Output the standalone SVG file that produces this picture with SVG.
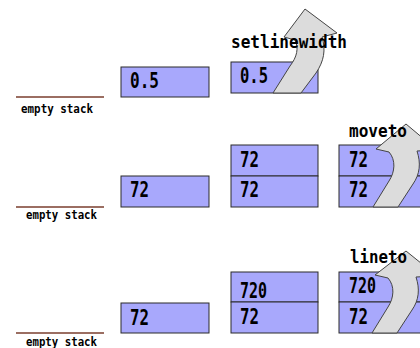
<svg xmlns="http://www.w3.org/2000/svg" width="420" height="348" viewBox="0 0 420 348">
  <style>
    .cell { fill: #a8a8fc; stroke: #2a2a2a; stroke-width: 1; }
    .val { font-family: "DejaVu Sans Mono", "Liberation Mono", monospace; font-weight: bold; font-size: 21px; fill: #000; }
    .op { font-family: "DejaVu Sans Mono", "Liberation Mono", monospace; font-weight: bold; font-size: 18px; fill: #000; }
    .base { stroke: #7a3e2e; stroke-width: 1.6; }
    .note { font-family: "DejaVu Sans Mono", "Liberation Mono", monospace; font-weight: bold; font-size: 13px; fill: #000; }
    .turn { fill: #dcdcdc; stroke: #444; stroke-width: 1; stroke-linejoin: round; }
  </style>
  <rect width="420" height="348" fill="#fff"/>

  <!-- row 1: 0.5 setlinewidth -->
  <g id="empty-1">
    <line class="base" x1="16" y1="97" x2="104" y2="97"/>
    <text class="note" x="21" y="113" textLength="72" lengthAdjust="spacingAndGlyphs">empty stack</text>
  </g>
  <g id="stack-1a">
    <rect class="cell" x="121" y="67" width="88" height="30"/>
    <text class="val" x="130" y="88" textLength="29" lengthAdjust="spacingAndGlyphs">0.5</text>
  </g>
  <g id="stack-1b">
    <rect class="cell" x="231" y="62" width="87" height="31"/>
    <text class="val" x="240" y="83" textLength="28" lengthAdjust="spacingAndGlyphs">0.5</text>
  </g>

  <!-- row 2: 72 72 moveto -->
  <g id="empty-2">
    <line class="base" x1="16" y1="207" x2="104" y2="207"/>
    <text class="note" x="26" y="219" textLength="71" lengthAdjust="spacingAndGlyphs">empty stack</text>
  </g>
  <g id="stack-2a">
    <rect class="cell" x="121" y="176" width="88" height="31"/>
    <text class="val" x="130" y="197" textLength="19" lengthAdjust="spacingAndGlyphs">72</text>
  </g>
  <g id="stack-2b">
    <rect class="cell" x="231" y="145" width="87" height="31"/>
    <rect class="cell" x="231" y="176" width="87" height="31"/>
    <text class="val" x="240" y="167" textLength="19" lengthAdjust="spacingAndGlyphs">72</text>
    <text class="val" x="240" y="197" textLength="19" lengthAdjust="spacingAndGlyphs">72</text>
  </g>
  <g id="stack-2c">
    <rect class="cell" x="339" y="145" width="90" height="31"/>
    <rect class="cell" x="339" y="176" width="90" height="31"/>
    <text class="val" x="349" y="167" textLength="19" lengthAdjust="spacingAndGlyphs">72</text>
    <text class="val" x="349" y="197" textLength="19" lengthAdjust="spacingAndGlyphs">72</text>
  </g>

  <!-- row 3: 72 720 lineto -->
  <g id="empty-3">
    <line class="base" x1="16" y1="333" x2="104" y2="333"/>
    <text class="note" x="26" y="346" textLength="71" lengthAdjust="spacingAndGlyphs">empty stack</text>
  </g>
  <g id="stack-3a">
    <rect class="cell" x="121" y="303" width="88" height="30"/>
    <text class="val" x="130" y="325" textLength="19" lengthAdjust="spacingAndGlyphs">72</text>
  </g>
  <g id="stack-3b">
    <rect class="cell" x="231" y="272" width="87" height="30"/>
    <rect class="cell" x="231" y="302" width="87" height="31"/>
    <text class="val" x="240" y="298" textLength="27" lengthAdjust="spacingAndGlyphs">720</text>
    <text class="val" x="240" y="324" textLength="19" lengthAdjust="spacingAndGlyphs">72</text>
  </g>
  <g id="stack-3c">
    <rect class="cell" x="339" y="272" width="90" height="30"/>
    <rect class="cell" x="339" y="302" width="90" height="31"/>
    <text class="val" x="349" y="293" textLength="27" lengthAdjust="spacingAndGlyphs">720</text>
    <text class="val" x="349" y="324" textLength="19" lengthAdjust="spacingAndGlyphs">72</text>
  </g>

  <!-- operator arrows -->
  <g id="connectors">
    <path class="turn" d="M273,93 L290,66 C297,57 299,48 295,40 L284,37 L305,9 L337,33 L322,37 C326,50 324,61 316,73 L301,93 Z"/>
    <path class="turn" d="M373,207 L389,181 C395,172 396,160 389,152 L376,149 L406,124 L437,150 L417,151 C421,163 420,174 413,184 L398,207 Z"/>
    <path class="turn" d="M372,333 L388,307 C394,298 395,286 388,278 L375,275 L406,251 L437,276 L416,277 C420,289 419,300 412,310 L397,333 Z"/>
  </g>

  <!-- operator names -->
  <g id="op-setlinewidth">
    <text class="op" x="231" y="48" textLength="116" lengthAdjust="spacingAndGlyphs">setlinewidth</text>
  </g>
  <g id="op-moveto">
    <text class="op" x="349" y="137" textLength="58" lengthAdjust="spacingAndGlyphs">moveto</text>
  </g>
  <g id="op-lineto">
    <text class="op" x="350" y="263" textLength="57" lengthAdjust="spacingAndGlyphs">lineto</text>
  </g>
</svg>
